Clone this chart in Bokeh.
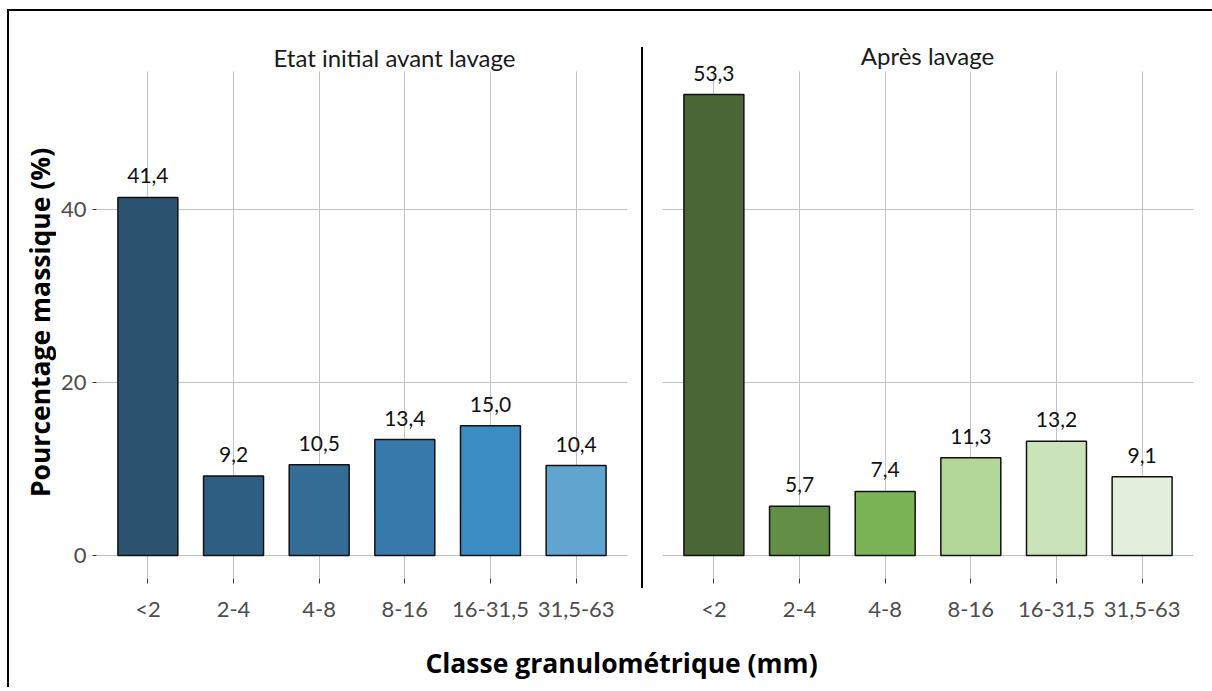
import math
from bokeh.plotting import figure
from bokeh.models import (FactorRange, Range1d, FixedTicker, Label, LabelSet,
                          ColumnDataSource, Spacer, BoxAnnotation)
from bokeh.layouts import row, column
from bokeh.embed import file_html
from bokeh.resources import INLINE
from bokeh.core.properties import value

# ---- data ----
classes = ["<2", "2-4", "4-8", "8-16", "16-31,5", "31,5-63"]
avant = [41.4, 9.2, 10.5, 13.4, 15.0, 10.4]
apres = [53.3, 5.7, 7.4, 11.3, 13.2, 9.1]
colors_avant = ["#2C5370", "#2E5F82", "#346E97", "#3779AB", "#3B8CC3", "#62A4D0"]
colors_apres = ["#4A6637", "#628E46", "#7BB357", "#B3D699", "#CBE3B9", "#E3EFDA"]
panel_titles = ["Etat initial avant lavage", "Après lavage"]
y_ticks = [0, 20, 40]
x_title = "Classe granulométrique (mm)"
y_title = "Pourcentage massique (%)"

FONT = "Lato"
BOLD_FONT = "Open Sans"
GRID = "#c2c2c2"
TICK_LABEL = "#4d4d4d"
ymax = max(max(avant), max(apres))
pad = 0.05 * ymax
panel_top = ymax + pad                      # upper limit of the gridded panel
FRAME_H, PANEL_H = 537, 507                 # frame is taller than the gridded panel
y_end = -pad + (ymax + 2 * pad) * FRAME_H / PANEL_H


def make_panel(vals, cols, title, width, mbl, mbr, show_y, tx, ty, talign):
    src = ColumnDataSource(dict(
        cls=classes, val=vals, col=cols,
        lab=[f"{v:.1f}".replace(".", ",") for v in vals]))
    p = figure(
        x_range=FactorRange(factors=classes, range_padding=0.1, range_padding_units="absolute"),
        y_range=Range1d(-pad, y_end),
        width=width, height=614,
        min_border_left=mbl, min_border_right=mbr, min_border_top=30, min_border_bottom=47,
        output_backend="svg", toolbar_location=None,
    )
    p.outline_line_color = None
    p.background_fill_color = "white"
    p.border_fill_color = "white"

    p.vbar(x="cls", top="val", bottom=0, width=0.7, source=src,
           fill_color="col", line_color="#111111", line_width=1.5)

    # hide grid above the panel limit (strip area)
    p.add_layout(BoxAnnotation(bottom=panel_top, fill_color="white", fill_alpha=1.0,
                               line_color=None))

    p.add_layout(LabelSet(x="cls", y="val", text="lab", source=src, text_align="center",
                          text_baseline="alphabetic", y_offset=14, text_font=value(FONT),
                          text_font_size="21px", text_color="#111111"))

    # panel (facet) title
    p.add_layout(Label(x=tx, y=ty, x_units="screen", y_units="screen", text=title,
                       text_align=talign, text_baseline="alphabetic", text_font=FONT,
                       text_font_size="24px", text_color="#1a1a1a"))

    # grids
    p.xgrid.grid_line_color = GRID
    p.ygrid.grid_line_color = GRID
    p.ygrid.ticker = FixedTicker(ticks=y_ticks)

    # x axis
    xa = p.xaxis[0]
    xa.axis_line_color = None
    xa.major_tick_line_color = "#333333"
    xa.major_tick_in = 0
    xa.major_tick_out = 5
    xa.major_label_standoff = 11
    xa.major_label_text_font = FONT
    xa.major_label_text_font_size = "22px"
    xa.major_label_text_color = TICK_LABEL

    ya = p.yaxis[0]
    ya.ticker = FixedTicker(ticks=y_ticks)
    if show_y:
        ya.axis_line_color = None
        ya.major_tick_line_color = "#333333"
        ya.minor_tick_line_color = None
        ya.major_tick_in = 0
        ya.major_tick_out = 4
        ya.major_label_standoff = 6
        ya.major_label_text_font = FONT
        ya.major_label_text_font_size = "22px"
        ya.major_label_text_color = TICK_LABEL
    else:
        ya.visible = False
    return p


f1 = make_panel(avant, colors_avant, panel_titles[0], 585, 40, 14, True, 177, 521, "left")
f2 = make_panel(apres, colors_apres, panel_titles[1], 569, 19, 19, False, 265, 523, "center")

# y-axis title strip
fy = figure(width=47, height=614, x_range=Range1d(0, 1), y_range=Range1d(0, 1),
            x_axis_type=None, y_axis_type=None, min_border=0,
            output_backend="svg", toolbar_location=None)
fy.outline_line_color = None
fy.grid.visible = False
fy.add_layout(Label(x=30, y=256, x_units="screen", y_units="screen", text=y_title,
                    angle=math.pi / 2, text_align="center", text_baseline="middle",
                    text_font=BOLD_FONT, text_font_style="bold", text_font_size="26.5px",
                    text_color="#000000"))

# vertical separator between the two panels
sep = column(Spacer(width=2, height=36),
             Spacer(width=2, height=541, styles={"background-color": "black"}))

# bottom strip with the shared x-axis title
f3 = figure(width=1203, height=62, x_range=Range1d(0, 1), y_range=Range1d(0, 1),
            x_axis_type=None, y_axis_type=None, min_border=0,
            output_backend="svg", toolbar_location=None)
f3.outline_line_color = None
f3.grid.visible = False
f3.add_layout(Label(x=612, y=25, x_units="screen", y_units="screen", text=x_title,
                    text_align="center", text_baseline="middle", text_font=BOLD_FONT,
                    text_font_style="bold", text_font_size="26.5px", text_color="#000000"))

layout = column(row(fy, f1, sep, f2), f3,
                styles={"border-top": "2px solid black", "border-left": "2px solid black",
                        "margin-left": "7px", "margin-top": "9px"})

open("out.html", "w").write(file_html(layout, INLINE))
